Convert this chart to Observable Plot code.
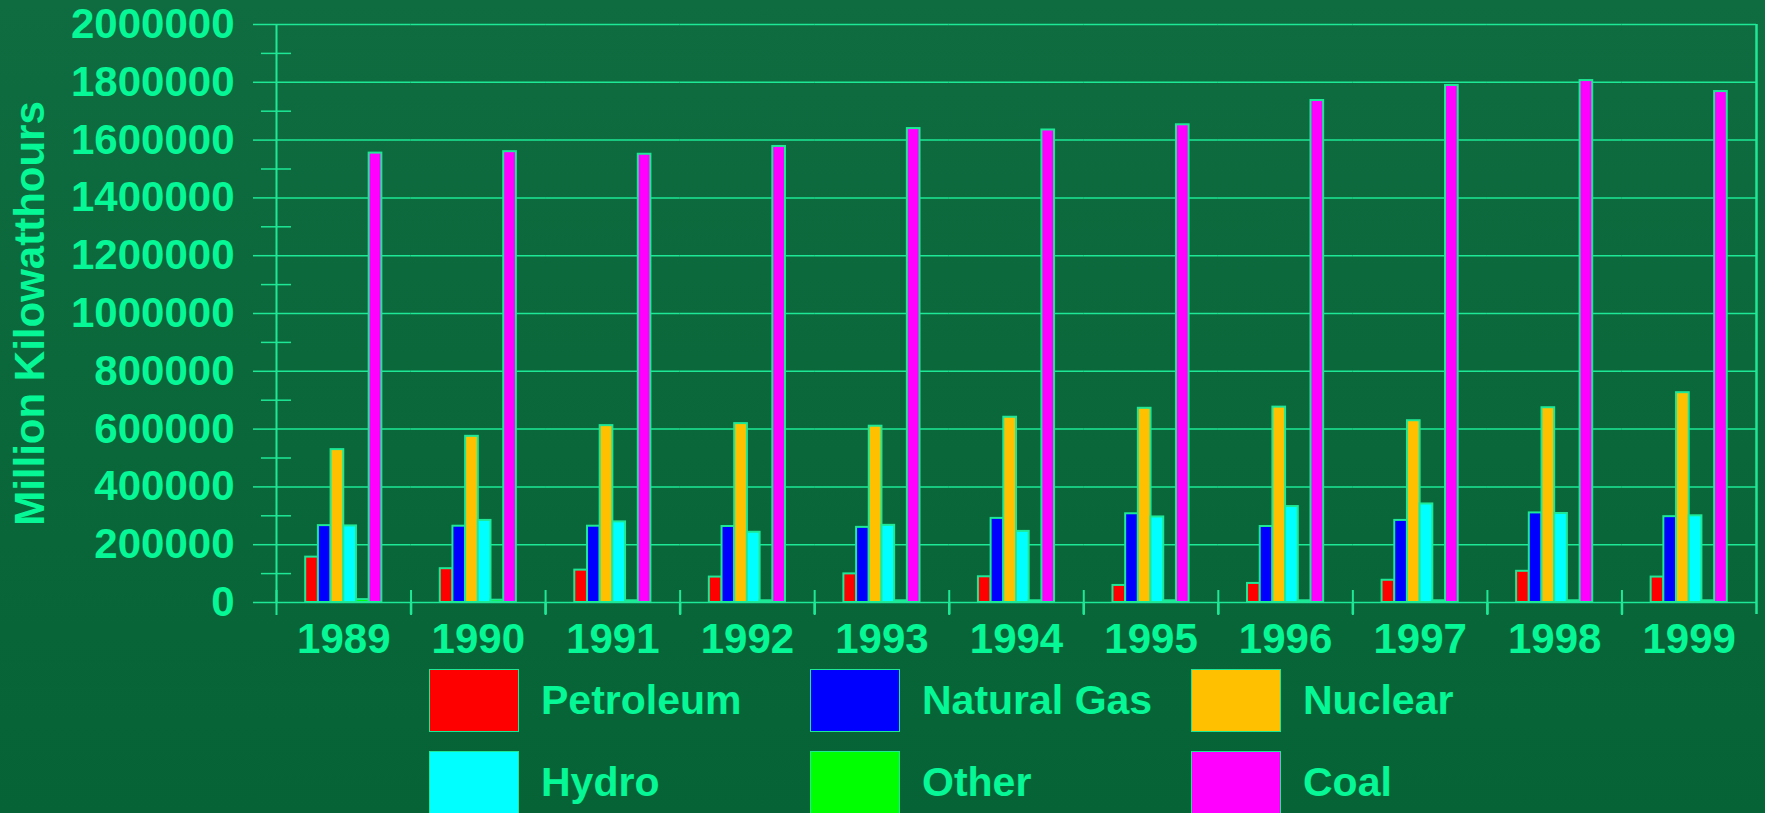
<!DOCTYPE html>
<html>
<head>
<meta charset="utf-8">
<script src="https://cdn.jsdelivr.net/npm/d3@7"></script>
<script src="https://cdn.jsdelivr.net/npm/@observablehq/plot@0.6"></script>
<style>
  html, body { margin: 0; padding: 0; }
  body {
    width: 1765px; height: 813px; overflow: hidden;
    background: linear-gradient(#0e6c40, #066335);
    font-family: "Liberation Sans", Arial, sans-serif; font-weight: bold;
  }
  #chart svg { display: block; }
  #legend {
    display: grid;
    grid-template-columns: repeat(3, 381px);
    grid-auto-rows: 82px;
    margin-left: 429px;
    margin-top: 4px;
  }
  .item { display: flex; align-items: center; height: 63px; }
  .sw { width: 88px; height: 61px; border: 1px solid #1ee896; margin-right: 22px; }
  .lab { color: #06f796; font-size: 41px; }
</style>
</head>
<body>
<div id="chart"></div>
<div id="legend"></div>
<script>
const years = [1989, 1990, 1991, 1992, 1993, 1994, 1995, 1996, 1997, 1998, 1999];
const sources = ["Petroleum", "Natural Gas", "Nuclear", "Hydro", "Other", "Coal"];
const colors = ["#ff0000", "#0000ff", "#ffc000", "#00ffff", "#00ff00", "#ff00ff"];

const petroleum  = [157000, 117000, 112000, 88000, 99000, 89000, 59000, 66000, 77000, 108000, 88000];
const naturalGas = [266000, 264000, 264000, 263000, 260000, 291000, 307000, 263000, 284000, 310000, 297000];
const nuclear    = [529000, 575000, 612000, 619000, 610000, 641000, 672000, 676000, 629000, 674000, 726000];
const hydro      = [265000, 284000, 279000, 243000, 267000, 246000, 296000, 332000, 341000, 308000, 300000];
const other      = [10000, 8000, 6000, 6000, 6000, 6000, 6000, 6000, 6000, 6000, 6000];
const coal       = [1555000, 1560000, 1551000, 1578000, 1640000, 1635000, 1653000, 1737000, 1789000, 1806000, 1768000];

const majorTicks = [0, 200000, 400000, 600000, 800000, 1000000, 1200000, 1400000, 1600000, 1800000, 2000000];
const minorTicks = [100000, 300000, 500000, 700000, 900000, 1100000, 1300000, 1500000, 1700000, 1900000];
const yLabel = "Million Kilowatthours";

const series = [petroleum, naturalGas, nuclear, hydro, other, coal];
const data = years.flatMap((yr, i) => sources.map((s, j) => ({year: yr, source: s, value: series[j][i]})));

const TEXT = "#06f796";
const LINE = "#1ee896";
const W = 1765, H = 665, ML = 276, MR = 9, MT = 24, MB = 63;
const step = (W - ML - MR) / years.length;

const chart = Plot.plot({
  width: W, height: H,
  marginLeft: ML, marginRight: MR, marginTop: MT, marginBottom: MB,
  style: {background: "transparent", color: TEXT, fontFamily: "'Liberation Sans', Arial, sans-serif", fontWeight: "bold", fontSize: "42px", overflow: "visible"},
  fx: {domain: years, padding: 0, round: false, label: null, axis: null},
  x: {domain: sources, paddingInner: 0, paddingOuter: 2.3, round: false, axis: null},
  y: {domain: [0, 2000000], axis: null},
  color: {domain: sources, range: colors},
  marks: [
    Plot.gridY(majorTicks, {stroke: LINE, strokeOpacity: 1, strokeWidth: 1.5}),
    Plot.axisY({ticks: majorTicks, tickSize: 23, tickPadding: 19, tickFormat: d => String(d),
      stroke: LINE, strokeWidth: 1.5, fill: TEXT, fontSize: 42,
      label: yLabel, labelArrow: "none", labelAnchor: "center", labelOffset: 262}),
    Plot.axisY({ticks: minorTicks, tickSize: 30, dx: 15, tickFormat: () => "", stroke: LINE, strokeWidth: 1.5, label: null}),
    Plot.ruleX([years[0]], {fx: d => d, x: null, dx: -step / 2, stroke: LINE, strokeWidth: 2}),
    Plot.ruleX([years[years.length - 1]], {fx: d => d, x: null, dx: step / 2, stroke: LINE, strokeWidth: 2.5}),
    Plot.barY(data, {fx: "year", x: "source", y: "value", fill: "source", stroke: LINE, strokeWidth: 2}),
    Plot.axisFx({anchor: "bottom", tickSize: 0, tickPadding: 21, tickFormat: d => String(d), fontSize: 42, fill: TEXT, label: null}),
    Plot.axisFx({anchor: "bottom", tickSize: 25, dy: -12, dx: -step / 2, tickFormat: () => "", stroke: LINE, strokeWidth: 2, label: null}),
    Plot.axisFx([years[years.length - 1]], {anchor: "bottom", tickSize: 12, dx: step / 2, tickFormat: () => "", stroke: LINE, strokeWidth: 2.5, label: null})
  ]
});
document.getElementById("chart").appendChild(chart);

const legend = document.getElementById("legend");
sources.forEach((s, i) => {
  const it = document.createElement("div");
  it.className = "item";
  it.innerHTML = `<div class="sw" style="background:${colors[i]}"></div><span class="lab">${s}</span>`;
  legend.appendChild(it);
});
</script>
</body>
</html>
